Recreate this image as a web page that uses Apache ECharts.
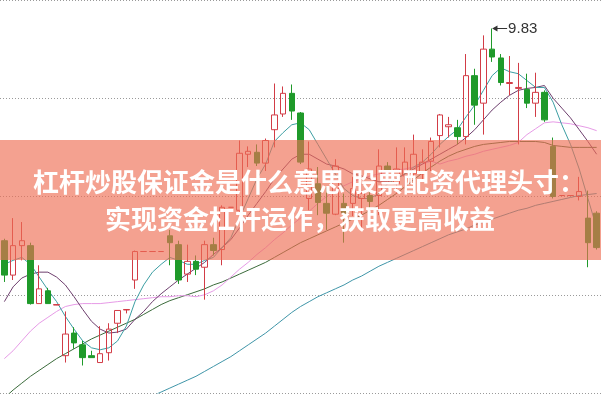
<!DOCTYPE html>
<html>
<head>
<meta charset="utf-8">
<script src="https://cdn.jsdelivr.net/npm/echarts@6/dist/echarts.min.js"></script>
<style>
html,body{margin:0;padding:0;background:#fff;}
#chart{width:601px;height:401px;}
</style>
</head>
<body>
<div id="chart"></div>
<script>
// ---- data ----
const days = Array.from({length: 69}, (_, i) => 'D' + (i + 1));
const openP  = [7.67,7.32,7.62,7.62,7.03,7.16,7.015,6.50,6.73,6.61,6.50,6.43,6.53,6.83,6.965,7.27,7.56,7.56,7.56,7.72,7.63,7.33,7.46,7.40,7.63,7.58,8.01,7.98,8.55,8.57,8.46,8.80,8.96,9.17,8.97,8.10,8.25,8.05,7.94,8.05,8.05,8.10,8.13,8.13,8.43,8.25,8.33,8.35,8.35,8.48,8.74,8.83,8.82,8.73,9.35,9.07,9.62,9.53,9.27,9.22,9.21,9.07,9.18,8.63,8.13,8.13,8.12,7.90,7.95];
const closeP = [7.32,7.62,7.67,7.03,7.18,7.03,7.02,6.72,6.63,6.48,6.48,6.52,6.77,6.96,6.97,7.56,7.56,7.56,7.56,7.65,7.27,7.46,7.38,7.63,7.57,8.01,8.01,8.56,8.58,8.46,8.69,8.95,9.17,8.99,8.47,8.40,8.06,7.95,8.43,7.95,8.20,8.15,8.07,8.43,8.38,8.40,8.47,8.55,8.47,8.68,8.95,8.85,8.73,9.35,9.05,9.62,9.54,9.28,9.28,9.23,9.07,9.18,8.90,8.12,8.13,8.13,8.17,7.65,7.60];
const lowP   = [7.25,7.27,7.47,7.02,7.03,7.03,7.02,6.43,6.57,6.40,6.48,6.43,6.45,6.73,6.93,7.18,7.56,7.56,7.56,7.42,7.23,7.25,7.32,7.07,7.52,7.42,8.01,7.95,8.42,8.43,8.38,8.62,8.93,8.90,8.45,7.98,7.93,7.78,7.93,7.65,7.92,7.78,7.95,7.93,8.30,8.15,8.20,8.28,8.28,8.38,8.62,8.72,8.65,8.65,8.85,8.75,9.49,9.25,9.15,8.65,9.02,8.93,8.88,8.10,8.13,8.13,8.08,7.40,7.58];
const highP  = [7.69,7.90,7.86,7.65,7.42,7.19,7.02,6.95,6.79,6.65,6.55,6.80,6.83,6.96,6.97,7.57,7.56,7.56,7.56,7.78,7.67,7.63,7.52,7.67,7.70,8.03,8.01,8.69,8.63,8.65,8.71,9.27,9.24,9.26,8.98,8.68,8.42,8.22,8.50,8.15,8.32,8.25,8.18,8.60,8.47,8.62,8.62,8.75,8.60,8.72,8.96,8.93,8.90,9.57,9.42,9.76,9.83,9.57,9.55,9.48,9.37,9.38,9.20,8.72,8.13,8.13,8.32,8.18,7.97];
const ma5  = [7.43,7.47,7.50,7.43,7.30,7.17,7.05,6.90,6.77,6.65,6.58,6.56,6.58,6.65,6.80,7.05,7.22,7.35,7.43,7.50,7.47,7.43,7.43,7.47,7.50,7.60,7.70,7.90,8.10,8.30,8.45,8.68,8.77,8.85,8.87,8.80,8.65,8.50,8.35,8.20,8.13,8.10,8.10,8.15,8.25,8.30,8.35,8.42,8.47,8.55,8.65,8.73,8.80,8.93,9.05,9.20,9.35,9.43,9.39,9.37,9.30,9.23,9.23,9.08,8.85,8.65,8.40,8.10,7.80];
const ma10 = [7.05,7.20,7.29,7.33,7.35,7.35,7.30,7.22,7.10,6.97,6.85,6.77,6.73,6.74,6.77,6.87,6.95,7.05,7.13,7.20,7.27,7.33,7.39,7.45,7.53,7.60,7.68,7.80,7.93,8.05,8.17,8.30,8.40,8.50,8.55,8.55,8.50,8.45,8.43,8.40,8.35,8.33,8.30,8.27,8.27,8.30,8.35,8.40,8.45,8.50,8.55,8.60,8.65,8.72,8.80,8.90,9.00,9.08,9.15,9.20,9.22,9.23,9.25,9.12,9.02,8.92,8.80,8.68,8.55];
const ma20 = [6.47,6.55,6.65,6.75,6.83,6.89,6.95,7.00,7.02,7.03,7.03,7.03,7.04,7.05,7.06,7.07,7.08,7.09,7.10,7.10,7.11,7.11,7.10,7.12,7.16,7.22,7.30,7.38,7.45,7.53,7.60,7.68,7.75,7.83,7.90,7.97,8.05,8.12,8.18,8.23,8.27,8.30,8.33,8.35,8.37,8.39,8.40,8.42,8.45,8.48,8.45,8.48,8.50,8.53,8.55,8.58,8.60,8.62,8.64,8.67,8.75,8.81,8.87,8.88,8.87,8.86,8.84,8.82,8.79];
const ma30 = [6.07,6.15,6.22,6.29,6.35,6.41,6.47,6.52,6.57,6.62,6.67,6.71,6.75,6.79,6.83,6.87,6.92,6.97,7.02,7.06,7.09,7.12,7.15,7.18,7.22,7.25,7.29,7.33,7.37,7.41,7.45,7.50,7.55,7.60,7.65,7.69,7.73,7.77,7.81,7.85,7.89,7.93,7.98,8.03,8.09,8.15,8.22,8.29,8.36,8.42,8.48,8.53,8.57,8.60,8.63,8.65,8.66,8.67,8.68,8.68,8.68,8.68,8.67,8.64,8.63,8.62,8.62,8.62,8.62];
const ma120 = [null,null,null,null,null,null,null,null,null,null,null,null,null,null,null,6.01,6.05,6.09,6.13,6.17,6.21,6.25,6.29,6.34,6.39,6.44,6.49,6.55,6.61,6.67,6.73,6.80,6.87,6.94,7.00,7.05,7.10,7.14,7.18,7.22,7.27,7.31,7.36,7.41,7.45,7.49,7.53,7.57,7.61,7.65,7.69,7.73,7.76,7.79,7.83,7.86,7.89,7.92,7.95,7.98,8.00,8.03,8.05,8.07,8.09,8.11,8.13,8.14,8.15];
const peakIndex = 56;
const peakLabel = '9.83';
const bannerLine1 = '杠杆炒股保证金是什么意思 股票配资代理头寸：';
const bannerLine2 = '实现资金杠杆运作，获取更高收益';

const candles = openP.map((o, i) => [o, closeP[i], lowP[i], highP[i]]);

const chart = echarts.init(document.getElementById('chart'), null, {renderer: 'canvas'});
const lineStyle = (c) => ({width: 1, color: c});
function ma(name, data, color) {
  return {name, type: 'line', data, symbol: 'none', smooth: false, connectNulls: true,
          lineStyle: lineStyle(color), silent: true, z: 3};
}
chart.setOption({
  animation: false,
  backgroundColor: '#ffffff',
  grid: {left: -0.375, width: 603.75, top: -7, bottom: 8},
  xAxis: {type: 'category', data: days, boundaryGap: true,
          axisLine: {show: false}, axisTick: {show: false}, axisLabel: {show: false}, splitLine: {show: false}},
  yAxis: {type: 'value', min: 6.12, max: 10.12, interval: 1, scale: true,
          axisLine: {show: false}, axisTick: {show: false}, axisLabel: {show: false},
          splitLine: {show: true, lineStyle: {color: '#9a9a9a', type: [1, 2], width: 1}}},
  series: [
    ma('MA120', ma120, '#3f95a8'),
    ma('MA30', ma30, '#3b6b3b'),
    ma('MA20', ma20, '#e79be7'),
    ma('MA10', ma10, '#6e3f6e'),
    ma('MA5', ma5, '#3c9ea3'),
    {
      name: 'K', type: 'candlestick', data: candles, barWidth: 6, z: 4,
      itemStyle: {color: 'rgba(255,255,255,0)', color0: '#1f9a2a', borderColor: '#d23c46', borderColor0: '#1f9a2a', borderWidth: 1, borderColorDoji: '#d23c46'},
      markPoint: {
        symbol: 'path://M0,3 L5,0 L5,2.5 L14,2.5 L14,3.5 L5,3.5 L5,6 Z',
        symbolSize: [15, 6], symbolOffset: ['50%', 0], symbolKeepAspect: false,
        itemStyle: {color: '#333'},
        label: {show: true, position: 'right', distance: 1, color: '#333', fontSize: 15,
                fontFamily: 'Liberation Sans, Arial, sans-serif', formatter: peakLabel},
        data: [{coord: [days[peakIndex], highP[peakIndex]]}]
      }
    }
  ],
  graphic: [
    {type: 'rect', z: 100, shape: {x: 0, y: 140, width: 601, height: 120},
     style: {fill: 'rgba(238,110,85,0.65)'}},
    {type: 'text', z: 101, x: 309, y: 182,
     style: {text: bannerLine1, fill: '#fff', font: 'bold 26px "Noto Sans CJK SC"', textAlign: 'center', textVerticalAlign: 'middle'}},
    {type: 'text', z: 101, x: 300, y: 219,
     style: {text: bannerLine2, fill: '#fff', font: 'bold 26px "Noto Sans CJK SC"', textAlign: 'center', textVerticalAlign: 'middle'}}
  ]
});
</script>
</body>
</html>
